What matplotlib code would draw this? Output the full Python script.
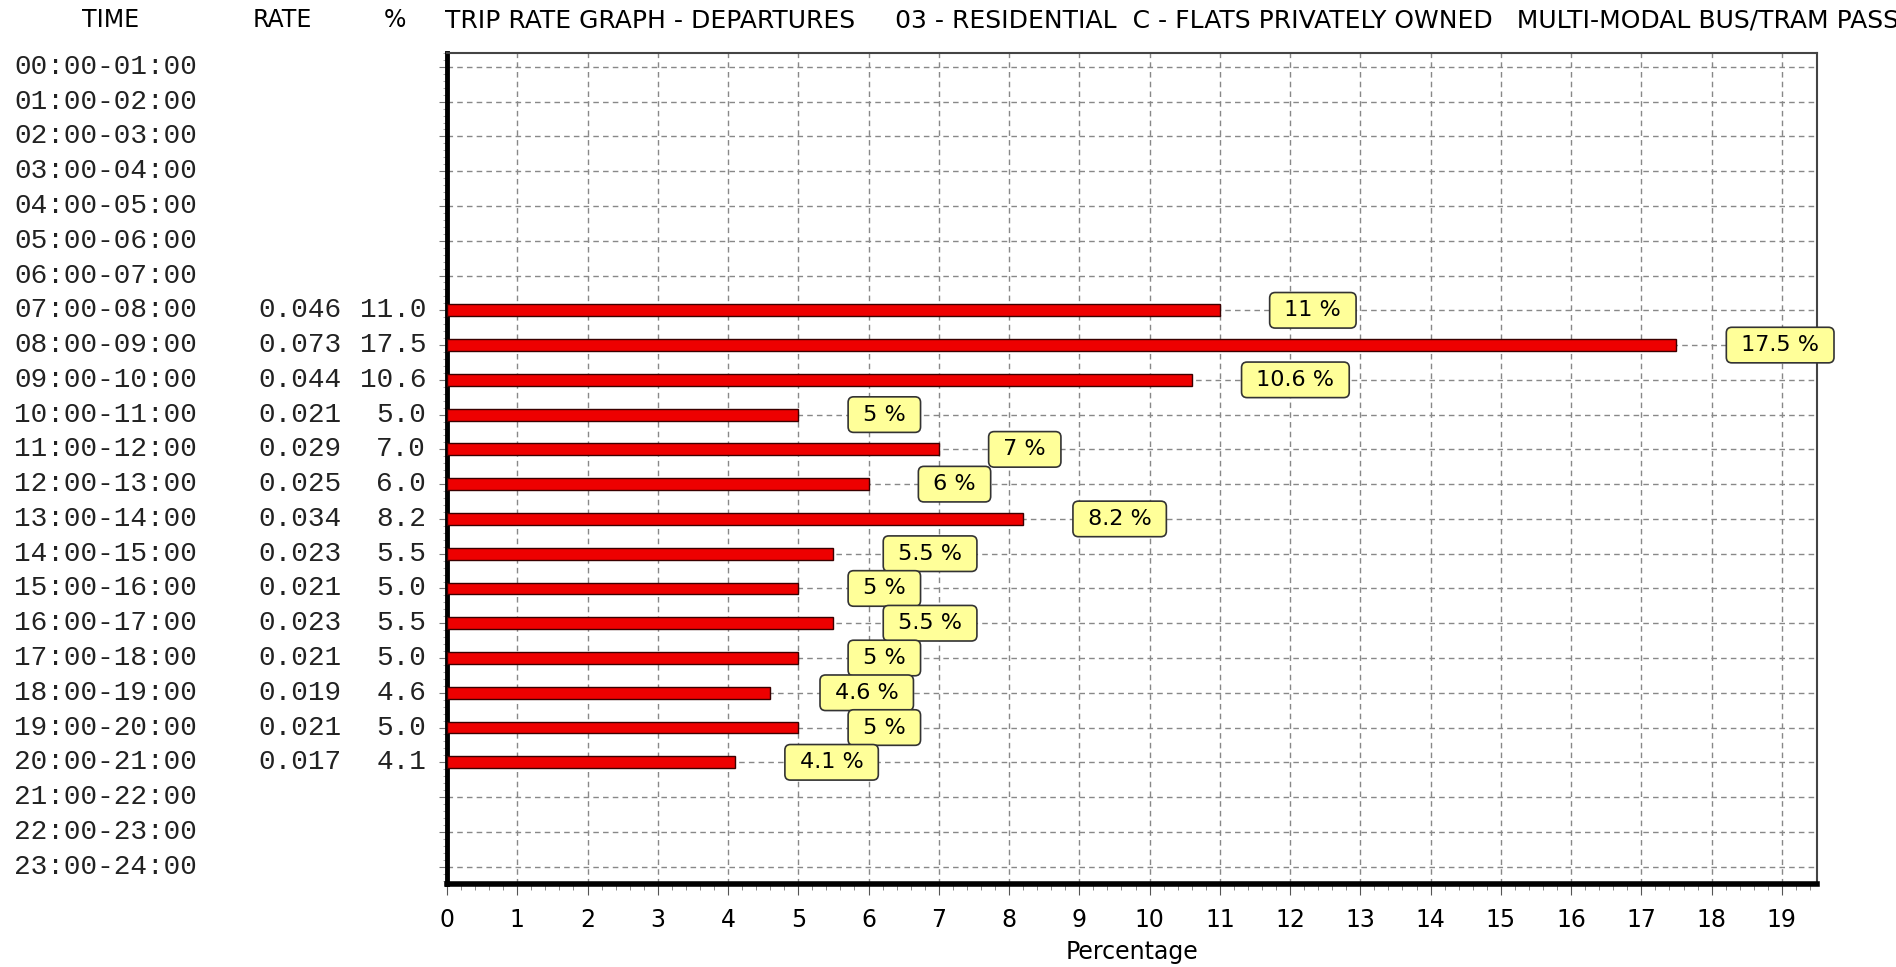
import numpy as np
import matplotlib.pyplot as plt
from matplotlib.transforms import blended_transform_factory
from matplotlib.ticker import MultipleLocator

times = ['%02d:00-%02d:00' % (h, h + 1) for h in range(24)]
rates = [None] * 7 + [0.046, 0.073, 0.044, 0.021, 0.029, 0.025, 0.034,
                      0.023, 0.021, 0.023, 0.021, 0.019, 0.021, 0.017] + [None] * 3
pcts = [None] * 7 + [11.0, 17.5, 10.6, 5.0, 7.0, 6.0, 8.2,
                     5.5, 5.0, 5.5, 5.0, 4.6, 5.0, 4.1] + [None] * 3
title = ('TRIP RATE GRAPH - DEPARTURES     03 - RESIDENTIAL  C - FLATS PRIVATELY OWNED'
         '   MULTI-MODAL BUS/TRAM PASSENGERS')

mono = ['Liberation Mono', 'DejaVu Sans Mono']
sans = ['DejaVu Sans']

W, H = 1896, 967
fig = plt.figure(figsize=(W / 100, H / 100), dpi=100)
ax = fig.add_axes([447 / W, 1 - 884 / H, (1817 - 447) / W, (884 - 53) / H])

rows = np.arange(24)
for i, p in enumerate(pcts):
    if p is None:
        continue
    ax.barh(i, p, height=0.34, color='#ee0000', edgecolor='#3a0000', linewidth=1, zorder=3)
    ax.text(p + 0.82, i, ' %g %% ' % p, ha='left', va='center', fontsize=16,
            family=sans, zorder=5,
            bbox=dict(boxstyle='round,pad=0.35,rounding_size=0.25',
                      fc='#ffff99', ec='#333333', lw=1.2))

ax.set_xlim(0, 19.5)
ax.set_ylim(23.5, -0.4)
ax.set_xticks(range(20))
ax.xaxis.set_minor_locator(MultipleLocator(0.2))
ax.set_yticks(rows)
ax.set_yticklabels([])
ax.yaxis.set_minor_locator(MultipleLocator(0.2))
ax.tick_params(axis='x', which='major', length=8, color='#555555', labelsize=17, pad=9)
ax.tick_params(axis='x', which='minor', length=4, color='#777777')
ax.tick_params(axis='y', which='major', length=6, color='#777777')
ax.tick_params(axis='y', which='minor', length=3, color='#999999')
ax.grid(True, which='major', color='#888888', linestyle=(0, (4, 3)), linewidth=1, zorder=0)
ax.set_axisbelow(True)

ax.spines['left'].set_linewidth(3.5)
ax.spines['bottom'].set_linewidth(4)
ax.spines['top'].set_linewidth(1.5)
ax.spines['top'].set_color('#444444')
ax.spines['right'].set_linewidth(1.5)
ax.spines['right'].set_color('#444444')

ax.set_xlabel('Percentage', fontsize=17, family=sans, labelpad=6)

# left-hand table columns
tr = blended_transform_factory(fig.transFigure, ax.transData)
for i, t in enumerate(times):
    fig.text(14 / W, i, t, transform=tr, ha='left', va='center', fontsize=20, family=mono, color='#222222')
    if rates[i] is not None:
        fig.text(342 / W, i, '%.3f' % rates[i], transform=tr, ha='right', va='center',
                 fontsize=20, family=mono, color='#222222')
        fig.text(426 / W, i, '%.1f' % pcts[i], transform=tr, ha='right', va='center',
                 fontsize=20, family=mono, color='#222222')

hy = 1 - 20 / H
fig.text(111 / W, hy, 'TIME', ha='center', va='center', fontsize=17, family=sans)
fig.text(282 / W, hy, 'RATE', ha='center', va='center', fontsize=17, family=sans)
fig.text(395 / W, hy, '%', ha='center', va='center', fontsize=17, family=sans)
fig.text(445 / W, hy, title, ha='left', va='center', fontsize=18, family=sans)

fig.savefig('out.png', dpi=100, facecolor='white')
